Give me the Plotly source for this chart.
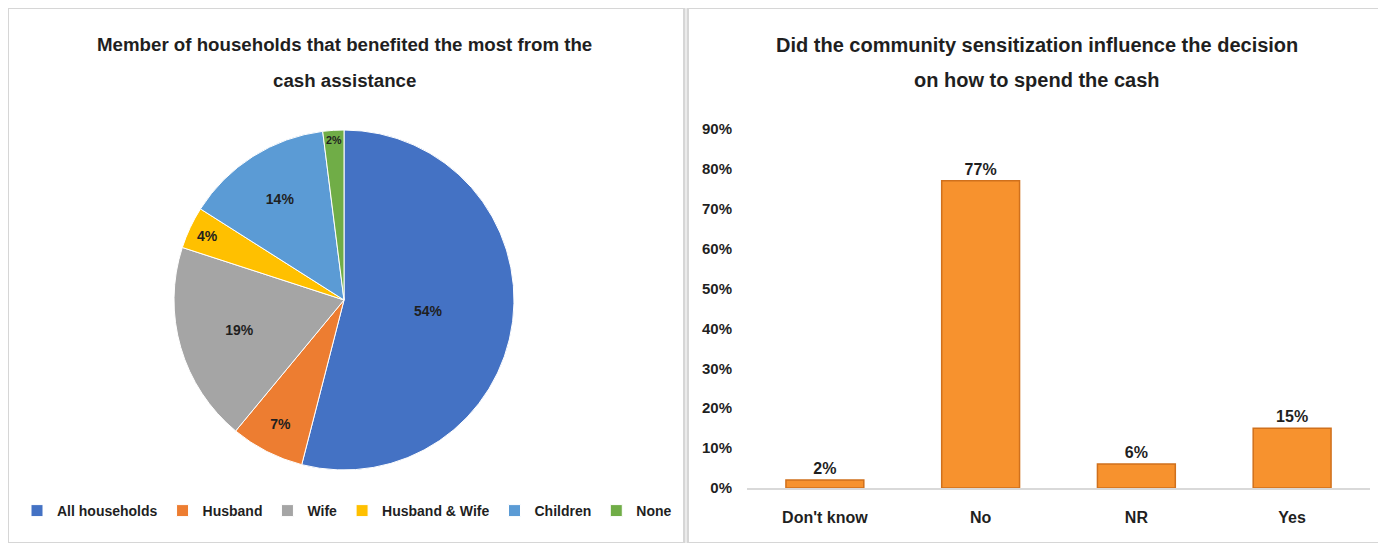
import plotly.graph_objects as go

# ---- data ----
pie_labels = ["All households", "Husband", "Wife", "Husband & Wife", "Children", "None"]
pie_values = [54, 7, 19, 4, 14, 2]
pie_colors = ["#4472C4", "#ED7D31", "#A5A5A5", "#FFC000", "#5B9BD5", "#70AD47"]

bar_categories = ["Don't know", "No", "NR", "Yes"]
bar_values = [2, 77, 6, 15]
bar_labels = ["2%", "77%", "6%", "15%"]
y_ticks = [0, 10, 20, 30, 40, 50, 60, 70, 80, 90]
y_ticklabels = ["0%", "10%", "20%", "30%", "40%", "50%", "60%", "70%", "80%", "90%"]

left_title = ["Member of households that benefited the most from the", "cash assistance"]
right_title = ["Did the community sensitization influence the decision", "on how to spend the cash"]

# page body has an 8px margin: figure is placed at (8, 8)
OFF = 8
W, H = 1386 - OFF, 543 - OFF
FONT = "Liberation Sans, Arial, sans-serif"
TXT = "#1f1f1f"

def px(x):
    return (x - OFF) / W

def py(y):
    return 1 - (y - OFF) / H

fig = go.Figure()

fig.add_trace(go.Pie(
    labels=pie_labels,
    values=pie_values,
    marker=dict(colors=pie_colors, line=dict(color="white", width=1)),
    sort=False,
    direction="clockwise",
    rotation=0,
    texttemplate="%{value}%",
    textposition="inside",
    insidetextorientation="horizontal",
    textfont=dict(family=FONT, size=14, color=TXT, weight="bold"),
    domain=dict(x=[px(174), px(514)], y=[py(470), py(130)]),
    hoverinfo="label+percent",
    showlegend=True,
))

fig.add_trace(go.Bar(
    x=bar_categories,
    y=bar_values,
    text=bar_labels,
    textposition="outside",
    textfont=dict(family=FONT, size=16, color=TXT, weight="bold"),
    cliponaxis=False,
    marker=dict(color="#F7922E", line=dict(color="#D0701C", width=1.5)),
    width=0.5,
    showlegend=False,
    xaxis="x",
    yaxis="y",
))

annotations = []
for i, line in enumerate(left_title):
    annotations.append(dict(text=line, xref="paper", yref="paper",
                            x=px(344), y=py(45 + 35 * i), xanchor="center", yanchor="middle",
                            showarrow=False,
                            font=dict(family=FONT, size=18.7, color=TXT, weight="bold")))
for i, line in enumerate(right_title):
    annotations.append(dict(text=line, xref="paper", yref="paper",
                            x=px(1037), y=py(45 + 35 * i), xanchor="center", yanchor="middle",
                            showarrow=False,
                            font=dict(family=FONT, size=20, color=TXT, weight="bold")))

fig.update_layout(
    width=W, height=H,
    margin=dict(l=0, r=0, t=0, b=0, autoexpand=False),
    paper_bgcolor="#EBEBEB",
    plot_bgcolor="white",
    font=dict(family=FONT, color=TXT),
    xaxis=dict(
        domain=[px(747), px(1370)],
        anchor="y",
        showgrid=False,
        showline=True, linecolor="#D9D9D9", linewidth=1.5,
        ticks="",
        tickfont=dict(family=FONT, size=16, color=TXT, weight="bold"),
        ticklabelstandoff=14,
    ),
    yaxis=dict(
        domain=[py(488), py(129)],
        anchor="x",
        range=[0, 90],
        tickvals=y_ticks,
        ticktext=y_ticklabels,
        showgrid=False,
        zeroline=False,
        showline=False,
        ticks="",
        tickfont=dict(family=FONT, size=15, color=TXT, weight="bold"),
        ticklabelstandoff=14,
    ),
    legend=dict(
        orientation="h",
        x=px(347), xanchor="center",
        y=py(511), yanchor="middle",
        font=dict(family=FONT, size=14, color=TXT, weight="bold"),
        bgcolor="rgba(0,0,0,0)",
        itemwidth=30,
        tracegroupgap=0,
    ),
    shapes=[
        dict(type="rect", xref="paper", yref="paper", layer="below",
             x0=0, x1=px(684), y0=0, y1=1,
             fillcolor="white", line=dict(color="#D6D6D6", width=2)),
        dict(type="rect", xref="paper", yref="paper", layer="below",
             x0=px(688), x1=1.01, y0=0, y1=1,
             fillcolor="white", line=dict(color="#D6D6D6", width=2)),
    ],
    annotations=annotations,
)

fig.write_html("out.html")
